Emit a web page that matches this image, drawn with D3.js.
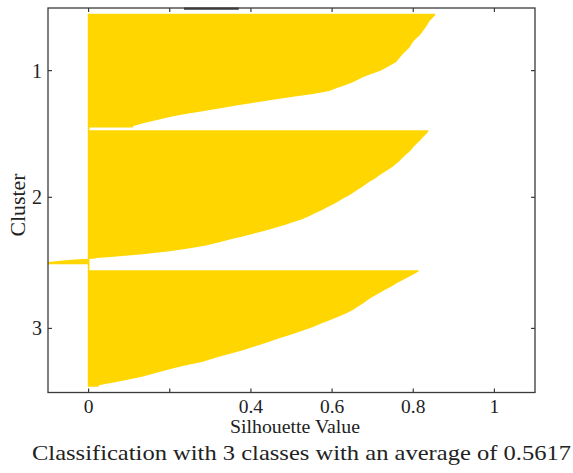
<!DOCTYPE html>
<html><head><meta charset="utf-8">
<script src="https://cdn.jsdelivr.net/npm/d3@7"></script>
<style>html,body{margin:0;padding:0;background:#fff;}svg{display:block;}</style>
</head><body>
<svg id="chart" width="573" height="473"></svg>
<script>
// ---- data ----
const clusterNames = ["1", "2", "3"];
const silhouette1 = [0.854,0.847,0.840,0.836,0.831,0.826,0.821,0.815,0.807,0.800,0.795,0.791,0.784,0.776,0.770,0.764,0.758,0.746,0.733,0.719,0.700,0.680,0.666,0.651,0.632,0.612,0.593,0.553,0.504,0.454,0.407,0.364,0.321,0.277,0.235,0.197,0.166,0.137,0.110];
const silhouette2 = [0.837,0.830,0.823,0.817,0.809,0.802,0.796,0.789,0.781,0.773,0.766,0.758,0.749,0.738,0.727,0.716,0.706,0.694,0.683,0.673,0.662,0.651,0.639,0.626,0.614,0.602,0.587,0.573,0.558,0.543,0.526,0.505,0.483,0.458,0.434,0.406,0.377,0.348,0.320,0.289,0.250,0.200,0.133,0.055,-0.05,-0.12];
const silhouette3 = [0.813,0.800,0.786,0.773,0.759,0.747,0.734,0.721,0.708,0.696,0.685,0.675,0.664,0.653,0.639,0.624,0.606,0.588,0.570,0.553,0.534,0.512,0.490,0.468,0.447,0.425,0.403,0.380,0.353,0.328,0.303,0.279,0.246,0.214,0.186,0.161,0.134,0.099,0.065,0.025];
const xTickValues = [0, 0.2, 0.4, 0.6, 0.8, 1];
const xTickLabels = ["0", "", "0.4", "0.6", "0.8", "1"];
const averageSilhouette = "0.5617";
const xAxisTitle = "Silhouette Value";
const yAxisTitle = "Cluster";

// ---- layout ----
const plot = {left: 48, right: 535, top: 8, bottom: 392.5};
const font = "'Liberation Serif','Times New Roman',serif";
const gold = "#FFD600";
const axisColor = "#3a3a3a";
const textColor = "#222";

const svg = d3.select("#chart");

const clusters = [silhouette1, silhouette2, silhouette3];
const gapsBefore = [2, 1, 2]; // empty rows before each cluster
const padAfter = 2;

const rowKeys = [];
clusters.forEach((vals, ci) => {
  for (let g = 0; g < gapsBefore[ci]; g++) rowKeys.push(`gap${ci}_${g}`);
  vals.forEach((v, i) => rowKeys.push(`c${ci}_${i}`));
});
for (let g = 0; g < padAfter; g++) rowKeys.push(`pad_${g}`);

const x = d3.scaleLinear().domain([-0.1, 1.1]).range([plot.left, plot.right]);
const y = d3.scaleBand().domain(rowKeys).range([plot.top, plot.bottom]).padding(0);

svg.append("defs").append("clipPath").attr("id", "clip")
  .append("rect").attr("x", plot.left).attr("y", plot.top)
  .attr("width", plot.right - plot.left).attr("height", plot.bottom - plot.top);

const g = svg.append("g").attr("clip-path", "url(#clip)");

// per-cluster profile points: cluster top edge, every row centre, cluster bottom edge
const clusterPoints = clusters.map((vals, ci) => {
  const pts = vals.map((v, i) => ({yy: y(`c${ci}_${i}`) + y.bandwidth() / 2, v}));
  pts.unshift({yy: y(`c${ci}_0`), v: vals[0]});
  pts.push({yy: y(`c${ci}_${vals.length - 1}`) + y.bandwidth(), v: vals[vals.length - 1]});
  return pts;
});

// baseline through the clusters
g.append("line")
  .attr("x1", x(0)).attr("x2", x(0))
  .attr("y1", clusterPoints[0][0].yy)
  .attr("y2", clusterPoints[2][clusterPoints[2].length - 1].yy)
  .attr("stroke", gold).attr("stroke-width", 1.6);

const area = d3.area()
  .y(d => d.yy)
  .x0(x(0))
  .x1(d => x(d.v))
  .curve(d3.curveLinear);

g.selectAll("path.cluster").data(clusterPoints).join("path")
  .attr("class", "cluster")
  .attr("d", area)
  .attr("fill", gold);

// frame
svg.append("rect")
  .attr("x", plot.left).attr("y", plot.top)
  .attr("width", plot.right - plot.left).attr("height", plot.bottom - plot.top)
  .attr("fill", "none").attr("stroke", axisColor).attr("stroke-width", 1.3);

// small darker segment on the top border (as in the reference)
svg.append("line")
  .attr("x1", x(0.235)).attr("x2", x(0.37))
  .attr("y1", plot.top + 0.6).attr("y2", plot.top + 0.6)
  .attr("stroke", axisColor).attr("stroke-width", 2.2);

// x ticks (inward, top and bottom)
const tl = 4;
xTickValues.forEach(v => {
  svg.append("line").attr("x1", x(v)).attr("x2", x(v))
    .attr("y1", plot.bottom).attr("y2", plot.bottom - tl)
    .attr("stroke", axisColor).attr("stroke-width", 1.2);
  svg.append("line").attr("x1", x(v)).attr("x2", x(v))
    .attr("y1", plot.top).attr("y2", plot.top + tl)
    .attr("stroke", axisColor).attr("stroke-width", 1.2);
});
svg.selectAll("text.xt").data(xTickValues.map((v, i) => ({v, label: xTickLabels[i]})).filter(d => d.label))
  .join("text").attr("class", "xt")
  .attr("x", d => x(d.v)).attr("y", 413)
  .attr("text-anchor", "middle")
  .attr("font-family", font).attr("font-size", 19.5).attr("fill", textColor)
  .text(d => d.label);

// y ticks at cluster centres
const centers = clusters.map((vals, ci) => {
  const a = y(`c${ci}_0`), b = y(`c${ci}_${vals.length - 1}`) + y.bandwidth();
  return (a + b) / 2;
});
centers.forEach((cy, i) => {
  svg.append("line").attr("x1", plot.left).attr("x2", plot.left + tl)
    .attr("y1", cy).attr("y2", cy).attr("stroke", axisColor).attr("stroke-width", 1.2);
  svg.append("line").attr("x1", plot.right).attr("x2", plot.right - tl)
    .attr("y1", cy).attr("y2", cy).attr("stroke", axisColor).attr("stroke-width", 1.2);
  svg.append("text").attr("x", plot.left - 6).attr("y", cy)
    .attr("dy", "0.35em").attr("text-anchor", "end")
    .attr("font-family", font).attr("font-size", 20).attr("fill", textColor)
    .text(clusterNames[i]);
});

// axis titles
svg.append("text").attr("x", 295).attr("y", 433)
  .attr("text-anchor", "middle").attr("font-family", font).attr("font-size", 18)
  .attr("fill", textColor).attr("textLength", 130).attr("lengthAdjust", "spacingAndGlyphs")
  .text(xAxisTitle);

svg.append("text")
  .attr("transform", `translate(25,205) rotate(-90)`)
  .attr("text-anchor", "middle").attr("font-family", font).attr("font-size", 20)
  .attr("fill", textColor).attr("textLength", 63).attr("lengthAdjust", "spacingAndGlyphs")
  .text(yAxisTitle);

svg.append("text").attr("x", 301.5).attr("y", 460)
  .attr("text-anchor", "middle").attr("font-family", font).attr("font-size", 22)
  .attr("fill", textColor).attr("textLength", 539).attr("lengthAdjust", "spacingAndGlyphs")
  .text(`Classification with ${clusterNames.length} classes with an average of ${averageSilhouette}`);
</script>
</body></html>
